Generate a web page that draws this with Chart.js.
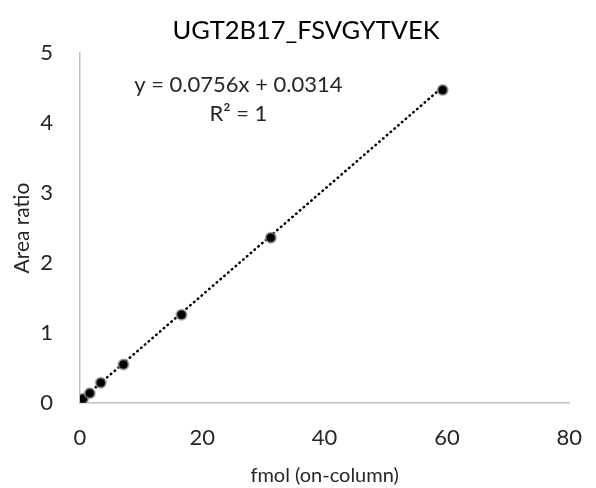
<!DOCTYPE html>
<html>
<head>
<meta charset="utf-8">
<script src="https://cdn.jsdelivr.net/npm/chart.js@4"></script>
<style>
  html, body { margin: 0; padding: 0; background: #fff; }
  #wrap { width: 596px; height: 488px; }
</style>
</head>
<body>
<div id="wrap"><canvas id="calChart" width="596" height="488"></canvas></div>
<script>
// calibration points
const fmolValues = [0.1, 0.5, 1.6, 3.4, 7.1, 16.6, 31.2, 59.3];
const areaRatios = [0.04, 0.06, 0.14, 0.29, 0.55, 1.26, 2.36, 4.47];

// fitted line as printed on the chart
const slope = 0.0756;
const intercept = 0.0314;
const equationLines = ['y = 0.0756x + 0.0314', 'R² = 1'];

const xTicks = [0, 20, 40, 60, 80];
const yTicks = [0, 1, 2, 3, 4, 5];

const textColor = '#262626';
const fontFamily = 'Lato, "Open Sans", sans-serif';

const xStart = fmolValues[0];
const xEnd = fmolValues[fmolValues.length - 1];
const trendPoints = [
    { x: xStart, y: slope * xStart + intercept },
    { x: xEnd, y: slope * xEnd + intercept }
];

// equation label, anchored in data units
const equationPlugin = {
    id: 'equationLabel',
    afterDatasetsDraw(chart) {
        const ctx = chart.ctx;
        const xs = chart.scales.x;
        const ys = chart.scales.y;
        ctx.save();
        ctx.fillStyle = textColor;
        ctx.font = '22px ' + fontFamily;
        ctx.textAlign = 'center';
        ctx.textBaseline = 'middle';
        const cx = xs.getPixelForValue(25.9);
        ctx.fillText(equationLines[0], cx, ys.getPixelForValue(4.55));
        ctx.fillText(equationLines[1], cx, ys.getPixelForValue(4.13));
        ctx.restore();
    }
};

const ctx = document.getElementById('calChart').getContext('2d');
const calChart = new Chart(ctx, {
    type: 'scatter',
    data: {
        datasets: [
            {
                label: 'Trendline',
                data: trendPoints,
                showLine: true,
                borderColor: '#000',
                borderWidth: 2.5,
                borderDash: [0.5, 4.5],
                borderCapStyle: 'round',
                pointRadius: 0,
                fill: false,
                order: 2
            },
            {
                label: 'Area ratio',
                data: fmolValues.map((x, i) => ({ x: x, y: areaRatios[i] })),
                backgroundColor: '#000',
                borderColor: 'rgba(140,140,140,0.7)',
                borderWidth: 2,
                pointRadius: 5,
                order: 1
            }
        ]
    },
    options: {
        responsive: false,
        animation: false,
        layout: { padding: { left: 35, right: 19, top: 0, bottom: 0 } },
        plugins: {
            legend: { display: false },
            tooltip: { enabled: false },
            title: {
                display: true,
                text: 'UGT2B17_FSVGYTVEK',
                color: '#000',
                font: { family: fontFamily, size: 25.5, weight: 'normal', lineHeight: 1.2 },
                padding: { top: 15, bottom: 7.4 }
            }
        },
        scales: {
            x: {
                type: 'linear',
                min: 0,
                max: 80,
                afterBuildTicks: axis => { axis.ticks = xTicks.map(v => ({ value: v })); },
                afterFit: axis => { axis.height = 85; },
                grid: { display: false },
                border: { display: true, color: '#bfbfbf', width: 1.5 },
                ticks: {
                    color: textColor,
                    padding: 14,
                    maxRotation: 0,
                    font: { family: fontFamily, size: 22 }
                },
                title: {
                    display: true,
                    text: 'fmol (on-column)',
                    color: textColor,
                    font: { family: fontFamily, size: 20 },
                    padding: { top: 3, bottom: 0 }
                }
            },
            y: {
                type: 'linear',
                min: 0,
                max: 5,
                afterBuildTicks: axis => { axis.ticks = yTicks.map(v => ({ value: v })); },
                afterFit: axis => { axis.width = 45; },
                grid: { display: false },
                border: { display: true, color: '#bfbfbf', width: 1.5 },
                ticks: {
                    color: textColor,
                    padding: 19,
                    font: { family: fontFamily, size: 22 }
                },
                title: {
                    display: true,
                    text: 'Area ratio',
                    color: textColor,
                    font: { family: fontFamily, size: 21 },
                    padding: { top: -25, bottom: 0 }
                }
            }
        }
    },
    plugins: [equationPlugin]
});
</script>
</body>
</html>
